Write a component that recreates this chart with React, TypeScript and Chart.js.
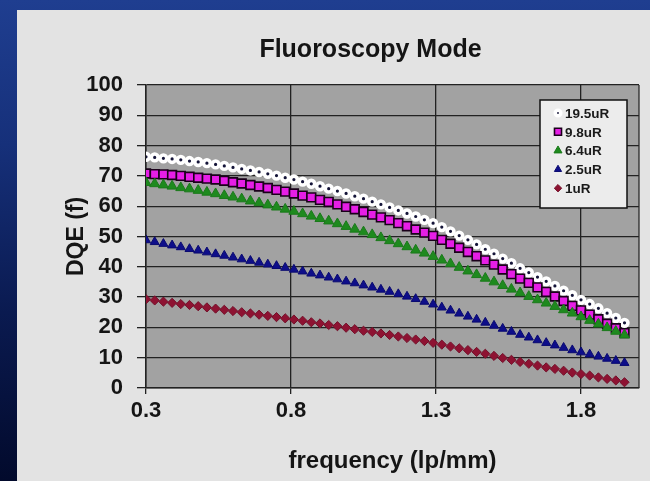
import React, { useEffect, useRef } from 'react';
import { Chart, registerables } from 'chart.js';
import { drawPoint } from 'chart.js/helpers';

Chart.register(...registerables);

const titleText = 'Fluoroscopy Mode';
const xTitle = 'frequency (lp/mm)';
const yTitle = 'DQE (f)';
const xTickValues = [0.3, 0.8, 1.3, 1.8];
const seriesNames = ['19.5uR', '9.8uR', '6.4uR', '2.5uR', '1uR'];

const frequency = [
  0.30, 0.33, 0.36, 0.39, 0.42, 0.45, 0.48, 0.51, 0.54, 0.57,
  0.60, 0.63, 0.66, 0.69, 0.72, 0.75, 0.78, 0.81, 0.84, 0.87,
  0.90, 0.93, 0.96, 0.99, 1.02, 1.05, 1.08, 1.11, 1.14, 1.17,
  1.20, 1.23, 1.26, 1.29, 1.32, 1.35, 1.38, 1.41, 1.44, 1.47,
  1.50, 1.53, 1.56, 1.59, 1.62, 1.65, 1.68, 1.71, 1.74, 1.77,
  1.80, 1.83, 1.86, 1.89, 1.92, 1.95,
];

const dqe19_5uR = [
  76.3, 76.1, 75.8, 75.6, 75.3, 74.9, 74.6, 74.2, 73.8, 73.3,
  72.8, 72.3, 71.8, 71.3, 70.7, 70.1, 69.4, 68.8, 68.1, 67.4,
  66.6, 65.8, 65.0, 64.2, 63.3, 62.5, 61.5, 60.6, 59.6, 58.6,
  57.6, 56.6, 55.5, 54.4, 53.1, 51.7, 50.3, 48.9, 47.4, 45.8,
  44.3, 42.7, 41.2, 39.5, 38.1, 36.6, 35.2, 33.7, 32.1, 30.6,
  29.1, 27.7, 26.3, 24.7, 23.1, 21.5,
];

const dqe9_8uR = [
  70.8, 70.6, 70.5, 70.3, 70.0, 69.7, 69.4, 69.1, 68.8, 68.4,
  67.9, 67.5, 67.0, 66.5, 66.0, 65.4, 64.8, 64.2, 63.5, 62.9,
  62.1, 61.4, 60.6, 59.8, 59.0, 58.1, 57.2, 56.3, 55.4, 54.4,
  53.4, 52.3, 51.3, 50.2, 48.9, 47.6, 46.3, 44.9, 43.5, 42.1,
  40.7, 39.1, 37.6, 36.1, 34.7, 33.2, 31.7, 30.2, 28.7, 27.1,
  25.6, 24.2, 22.7, 21.2, 19.7, 18.1,
];

const dqe6_4uR = [
  67.8, 67.4, 67.0, 66.6, 66.1, 65.7, 65.2, 64.6, 64.1, 63.5,
  63.0, 62.4, 61.7, 61.1, 60.4, 59.7, 59.0, 58.3, 57.5, 56.7,
  55.9, 55.1, 54.2, 53.3, 52.4, 51.5, 50.6, 49.6, 48.6, 47.6,
  46.6, 45.5, 44.5, 43.4, 42.2, 41.0, 39.8, 38.6, 37.4, 36.2,
  35.0, 33.8, 32.6, 31.4, 30.2, 29.1, 28.0, 26.9, 25.8, 24.7,
  23.5, 22.3, 21.1, 19.9, 18.7, 17.5,
];

const dqe2_5uR = [
  48.8, 48.2, 47.6, 47.1, 46.5, 45.9, 45.4, 44.8, 44.2, 43.7,
  43.1, 42.5, 42.0, 41.4, 40.8, 40.3, 39.7, 39.1, 38.5, 37.8,
  37.2, 36.5, 35.9, 35.2, 34.6, 33.9, 33.2, 32.5, 31.8, 31.0,
  30.2, 29.4, 28.5, 27.6, 26.6, 25.6, 24.6, 23.6, 22.6, 21.6,
  20.6, 19.6, 18.6, 17.6, 16.7, 15.8, 14.9, 14.1, 13.3, 12.5,
  11.8, 11.1, 10.4, 9.7, 9.0, 8.3,
];

const dqe1uR = [
  29.3, 28.9, 28.5, 28.1, 27.7, 27.4, 27.0, 26.6, 26.2, 25.8,
  25.4, 25.0, 24.6, 24.2, 23.8, 23.4, 23.0, 22.6, 22.2, 21.7,
  21.3, 20.8, 20.4, 19.9, 19.4, 18.9, 18.5, 18.0, 17.5, 17.0,
  16.5, 16.0, 15.5, 14.9, 14.3, 13.7, 13.1, 12.5, 11.9, 11.3,
  10.6, 9.9, 9.3, 8.6, 8.0, 7.4, 6.8, 6.3, 5.7, 5.1,
  4.6, 4.1, 3.5, 3.0, 2.5, 1.9,
];

const seriesValues = [dqe19_5uR, dqe9_8uR, dqe6_4uR, dqe2_5uR, dqe1uR];

const FONT = '"Liberation Sans", Arial, Helvetica, sans-serif';

const markerStyles = [
  { pointStyle: 'circle', radius: 3.4, fill: '#141438', stroke: '#ffffff', bw: 3.6 },
  { pointStyle: 'rect', radius: 6.2, fill: '#e61ee6', stroke: '#1a001a', bw: 1.6 },
  { pointStyle: 'triangle', radius: 5.8, fill: '#1e8a1e', stroke: '#1a7a1a', bw: 1 },
  { pointStyle: 'triangle', radius: 5.2, fill: '#0e0e8a', stroke: '#0a0a70', bw: 1 },
  { pointStyle: 'rectRot', radius: 4.6, fill: '#8e1232', stroke: '#74102a', bw: 1 },
];

const areaPlugin = {
  id: 'plotArea',
  beforeDraw(chart: any) {
    const { ctx, chartArea } = chart;
    ctx.save();
    ctx.fillStyle = '#a2a2a2';
    ctx.fillRect(chartArea.left, chartArea.top, chartArea.right - chartArea.left, chartArea.bottom - chartArea.top);
    ctx.restore();
  },
  beforeDatasetsDraw(chart: any) {
    const { ctx, chartArea } = chart;
    ctx.save();
    ctx.strokeStyle = '#2a2a2a';
    ctx.lineWidth = 1.3;
    ctx.beginPath();
    ctx.moveTo(chartArea.right, chartArea.top);
    ctx.lineTo(chartArea.right, chartArea.bottom);
    ctx.stroke();
    ctx.restore();
  },
};

const titlePlugin = {
  id: 'customTitle',
  afterDraw(chart: any) {
    const { ctx, chartArea } = chart;
    ctx.save();
    ctx.font = `bold 25px ${FONT}`;
    ctx.fillStyle = '#151515';
    ctx.textAlign = 'center';
    ctx.textBaseline = 'middle';
    ctx.fillText(titleText, (chartArea.left + chartArea.right) / 2 - 22, chartArea.top - 35);
    ctx.restore();
  },
};

const legendPlugin = {
  id: 'boxLegend',
  afterDraw(chart: any) {
    const { ctx, chartArea } = chart;
    const bx = chartArea.right - 99;
    const by = chartArea.top + 15;
    const bw = 87;
    const bh = 108;
    ctx.save();
    ctx.fillStyle = '#ececec';
    ctx.fillRect(bx, by, bw, bh);
    ctx.strokeStyle = '#111';
    ctx.lineWidth = 1.5;
    ctx.strokeRect(bx, by, bw, bh);
    seriesNames.forEach((name, i) => {
      const m = markerStyles[i];
      const y = by + 13 + i * 18.8;
      ctx.fillStyle = m.fill;
      ctx.strokeStyle = m.stroke;
      ctx.lineWidth = m.bw;
      drawPoint(ctx, { pointStyle: m.pointStyle as any, rotation: 0, radius: m.radius * 0.8, borderWidth: m.bw }, bx + 18, y);
      ctx.fillStyle = '#1a1a1a';
      ctx.font = `bold 13.5px ${FONT}`;
      ctx.textAlign = 'left';
      ctx.textBaseline = 'middle';
      ctx.fillText(name, bx + 25, y + 1);
    });
    ctx.restore();
  },
};

export default function App() {
  const canvasRef = useRef<HTMLCanvasElement | null>(null);

  useEffect(() => {
    const canvas = canvasRef.current;
    if (!canvas) return;
    const datasets = seriesNames.map((name, i) => {
      const m = markerStyles[i];
      return {
        label: name,
        data: frequency.map((f, j) => ({ x: f, y: seriesValues[i][j] })),
        showLine: false,
        pointStyle: m.pointStyle,
        pointRadius: m.radius,
        pointBackgroundColor: m.fill,
        pointBorderColor: m.stroke,
        pointBorderWidth: m.bw,
        order: 5 - i,
      };
    });

    const chart = new Chart(canvas, {
      type: 'scatter',
      data: { datasets: datasets as any },
      plugins: [areaPlugin, titlePlugin, legendPlugin],
      options: {
        animation: false,
        responsive: false,
        maintainAspectRatio: false,
        layout: { padding: { top: 75, right: 11, bottom: 5, left: 46 } },
        plugins: {
          legend: { display: false },
          title: { display: false },
          tooltip: { enabled: false },
        },
        scales: {
          x: {
            type: 'linear',
            min: 0.3,
            max: 2.0,
            afterBuildTicks: (scale: any) => {
              scale.ticks = xTickValues.map((v) => ({ value: v }));
            },
            afterFit: (scale: any) => {
              scale.height = 88;
            },
            ticks: {
              callback: (v: any) => Number(v).toFixed(1),
              font: { family: FONT, size: 22, weight: 'bold' },
              color: '#151515',
              padding: 4,
              maxRotation: 0,
            },
            grid: { color: '#222', lineWidth: 1.3, tickLength: 6, drawTicks: true },
            border: { display: true, color: '#222', width: 1.5 },
            title: {
              display: true,
              text: xTitle,
              font: { family: FONT, size: 24, weight: 'bold' },
              color: '#151515',
              padding: 0,
            },
          },
          y: {
            type: 'linear',
            min: 0,
            max: 100,
            afterFit: (scale: any) => {
              scale.width = 83;
            },
            ticks: {
              stepSize: 10,
              font: { family: FONT, size: 22, weight: 'bold' },
              color: '#151515',
              padding: 14,
            },
            grid: { color: '#222', lineWidth: 1.3, tickLength: 9, drawTicks: true },
            border: { display: true, color: '#222', width: 1.5 },
            title: {
              display: true,
              text: yTitle,
              font: { family: FONT, size: 23, weight: 'bold' },
              color: '#151515',
              padding: 0,
            },
          },
        },
      } as any,
    });
    return () => chart.destroy();
  }, []);

  return (
    <div
      style={{
        position: 'fixed',
        left: 0,
        top: 0,
        width: 650,
        height: 481,
        overflow: 'hidden',
        background: 'linear-gradient(to bottom, #1f3e90 0%, #16307a 30%, #0a1a50 65%, #020a2c 100%)',
      }}
    >
      <div
        style={{
          position: 'absolute',
          left: 17,
          top: 10,
          width: 633,
          height: 471,
          background: '#e3e3e3',
        }}
      >
        <canvas ref={canvasRef} width={633} height={471} style={{ display: 'block' }} />
      </div>
    </div>
  );
}
